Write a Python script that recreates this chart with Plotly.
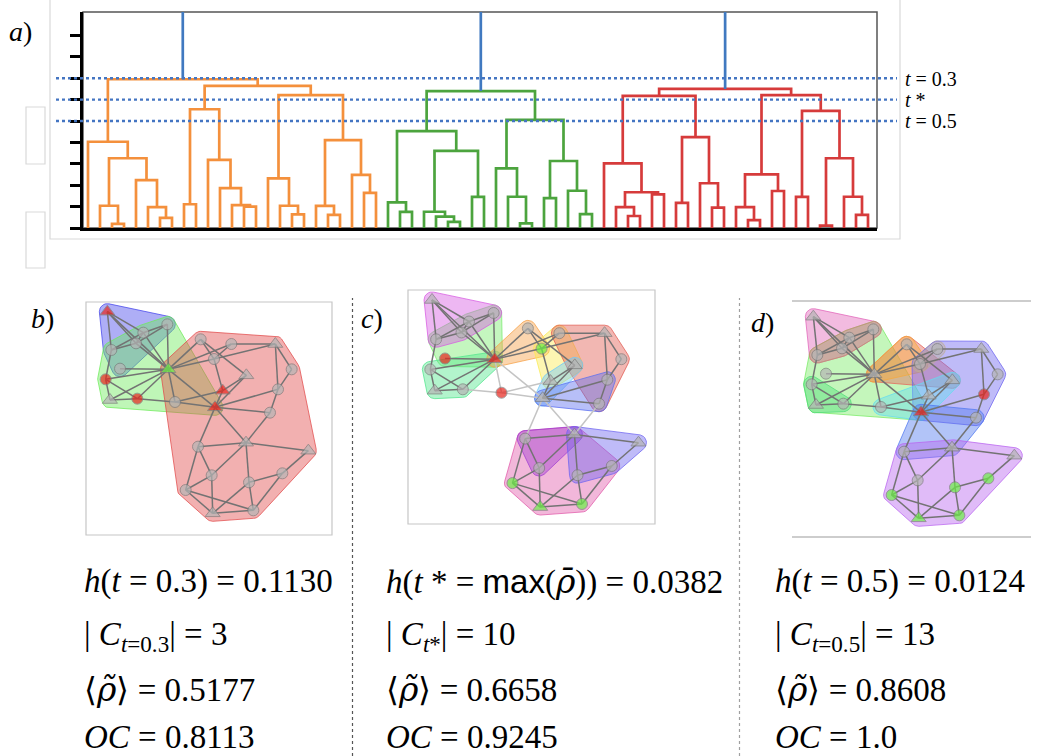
import math
import plotly.graph_objects as go

W, H = 1038, 756

# ---------------------------------------------------------------------------
# a) dendrogram: nested merges (height, left, right); None marks a leaf.
#    Heights are link distances 1 - t.
# ---------------------------------------------------------------------------
L = None

ORANGE_TREE = (0.695,
    (0.403, L, (0.326, (0.104, L, (0.019, L, L)),
                       (0.224, L, (0.098, L, (0.047, L, L))))),
    (0.664,
        (0.555, (0.111, L, L), (0.318, L, (0.186, L, (0.107, L, (0.100, L, L))))),
        (0.621, (0.232, L, (0.104, L, (0.064, L, L))),
                (0.411, (0.103, L, (0.061, L, L)), (0.248, L, (0.164, L, L))))))

GREEN_TREE = (0.640,
    (0.453, (0.120, L, (0.075, L, L)),
            (0.360, (0.076, L, (0.053, L, (0.029, L, L))), (0.145, L, L))),
    (0.505, (0.279, L, (0.146, L, (0.022, L, L))),
            (0.313, (0.140, L, L), (0.174, L, (0.065, L, L)))))

RED_TREE = (0.650,
    (0.617, (0.302, L, (0.167, (0.098, L, (0.056, L, L)), (0.157, L, L))),
            (0.425, (0.117, L, L), (0.209, L, (0.095, L, L)))),
    (0.621, (0.251, (0.098, L, (0.037, L, L)), (0.173, L, L)),
            (0.547, (0.145, L, L), (0.326, (0.011, L, L), (0.146, L, (0.061, L, L))))))

ROOT_HEIGHTS = [1.15, 1.30]          # above the visible range
CUT_T = [0.3, 0.4, 0.5]              # thresholds t = 0.3, t*, t = 0.5
CUT_LABELS = ["<i>t</i> = 0.3", "<i>t</i> *", "<i>t</i> = 0.5"]
DENDRO_COLORS = {"orange": "#F4903C", "green": "#4CA43E", "red": "#D63B3B", "root": "#4079C0"}

# ---------------------------------------------------------------------------
# b) c) d) network: node layout, node shapes, edges
# ---------------------------------------------------------------------------
NODE_X = [100, 280, 208, 186, 112, 138, 95, 108, 190, 303, 283, 380, 472, 604, 420,
          517, 653, 446, 612, 423, 588, 516, 372, 703, 413, 625, 525, 335, 416, 538]
NODE_Y = [65, 103, 128, 160, 180, 236, 268, 330, 326, 336, 238, 148, 162, 162, 207,
          256, 238, 302, 298, 352, 368, 458, 470, 482, 556, 550, 577, 600, 670, 661]
TRIANGLES = [1, 8, 11, 14, 16, 18, 20, 22, 24, 29]

EDGES = [(1, 3), (1, 4), (1, 5), (1, 11), (2, 3), (2, 4), (2, 11), (3, 4), (3, 5), (3, 11),
         (4, 5), (4, 11), (5, 7), (6, 11), (7, 8), (7, 9), (7, 11), (8, 9), (8, 11), (9, 10),
         (9, 11), (10, 11), (10, 18), (10, 20), (11, 12), (11, 13), (11, 15), (11, 20),
         (12, 15), (12, 16), (13, 14), (13, 15), (14, 15), (14, 17), (14, 19), (15, 18),
         (16, 18), (16, 20), (17, 19), (18, 20), (19, 20), (19, 21), (20, 21), (20, 22),
         (20, 23), (21, 22), (22, 23), (22, 24), (22, 25), (22, 27), (23, 25), (23, 28),
         (24, 26), (25, 28), (25, 29), (26, 27), (26, 30), (27, 29), (27, 30), (28, 29),
         (28, 30), (29, 30)]
LIGHT_EDGES_C = [(9, 10), (10, 11), (10, 18), (10, 20), (11, 20), (20, 22), (20, 23), (21, 22)]

COMM_B = [[1, 2, 3, 4, 5, 6],
          [2, 3, 4, 5, 6, 7, 8, 9, 10, 11, 20],
          list(range(10, 31))]
COMM_B_COLORS = [(70, 70, 235), (110, 235, 90), (225, 75, 75)]

COMM_C = [[2, 3, 4, 5, 6, 11], [7, 8, 9, 11], [1, 2, 3, 4, 5], [11, 12, 15],
          [13, 15, 16, 18], [13, 14, 16, 17, 19, 21], [16, 18, 20], [19, 20, 21],
          [22, 23, 25, 26, 27, 28, 29, 30], [22, 23, 25], [22, 24, 26, 27]]
COMM_C_COLORS = [(120, 235, 110), (80, 230, 140), (215, 90, 225), (245, 160, 70),
                 (250, 235, 80), (225, 90, 80), (110, 200, 250), (90, 110, 240),
                 (225, 90, 170), (160, 60, 210), (110, 100, 240)]

COMM_D = [[2, 3, 4, 5, 6, 7, 8, 9, 10, 11, 20], [7, 8, 9], [1, 2, 3, 4, 5], [2, 3, 4, 5],
          [11, 12, 15, 16], [11, 12, 15], [13, 15], [13, 14, 15, 16, 17, 18, 19, 20, 21],
          [10, 16, 18, 20], [20, 21, 22, 23], list(range(22, 31))]
COMM_D_COLORS = [(120, 235, 100), (80, 220, 120), (225, 100, 185), (190, 150, 110),
                 (230, 100, 90), (245, 170, 60), (250, 230, 80), (110, 100, 240),
                 (100, 220, 240), (80, 120, 240), (185, 100, 240)]

RED_NODES = {"b": [1, 7, 9, 18, 20], "c": [6, 10, 11], "d": [19, 20]}
GREEN_NODES = {"b": [11], "c": [15, 28, 29, 30], "d": [26, 27, 28, 29, 30]}

# panel statistics
RHO_TILDE = "<span style=\"font-family:'DejaVu Serif'\"><i>ρ̃</i></span>"
RHO_BAR = "<span style=\"font-family:'DejaVu Serif'\"><i>ρ̄</i></span>"
PANEL_T = ["<i>t</i> = 0.3",
           f"<i>t</i> * = <span style='font-family:Liberation Sans'>max</span>({RHO_BAR})",
           "<i>t</i> = 0.5"]
PANEL_SUB = ["<i>t</i>=0.3", "<i>t</i>*", "<i>t</i>=0.5"]
H_VALUES = [0.1130, 0.0382, 0.0124]
N_COMMUNITIES = [3, 10, 13]
RHO_MEAN = [0.5177, 0.6658, 0.8608]
OC_VALUES = [0.8113, 0.9245, 1.0]

# ---------------------------------------------------------------------------
fig = go.Figure()
SERIF = "Liberation Serif"


def px_x(x):
    return x / W


def px_y(y):
    return 1 - y / H


# ---- dendrogram geometry --------------------------------------------------
def walk(node, counter, xs, ys):
    if node is None:
        x = counter[0]
        counter[0] += 1
        return x, 0.0
    h, a, b = node
    xa, ha = walk(a, counter, xs, ys)
    xb, hb = walk(b, counter, xs, ys)
    xs += [xa, xa, xb, xb, None]
    ys += [ha, h, h, hb, None]
    return (xa + xb) / 2, h


counter = [0]
tops = []
for name, tree in [("orange", ORANGE_TREE), ("green", GREEN_TREE), ("red", RED_TREE)]:
    xs, ys = [], []
    tops.append(walk(tree, counter, xs, ys))
    fig.add_trace(go.Scatter(x=xs, y=ys, mode="lines", xaxis="x", yaxis="y",
                             line=dict(color=DENDRO_COLORS[name], width=2.7),
                             hoverinfo="skip"))
(xo, ho), (xg, hg), (xr, hr) = tops
xc = (xo + xg) / 2
fig.add_trace(go.Scatter(
    x=[xo, xo, xg, xg, None, xc, xc, xr, xr],
    y=[ho, ROOT_HEIGHTS[0], ROOT_HEIGHTS[0], hg, None, ROOT_HEIGHTS[0], ROOT_HEIGHTS[1],
       ROOT_HEIGHTS[1], hr],
    mode="lines", xaxis="x", yaxis="y",
    line=dict(color=DENDRO_COLORS["root"], width=2.7), hoverinfo="skip"))

PLOT_L, PLOT_R, PLOT_T, PLOT_B = 83, 877, 12, 228
leaf_step = 12.0
x0 = -(88 - PLOT_L) / leaf_step
x1 = x0 + (PLOT_R - PLOT_L) / leaf_step
y_top = (PLOT_B - PLOT_T) / 214.0

shapes = []
# outer light frame and side boxes
shapes.append(dict(type="rect", xref="paper", yref="paper", x0=px_x(50), x1=px_x(900),
                   y0=px_y(239), y1=px_y(-3), line=dict(color="#d9d9d9", width=1.2), layer="below"))
for (a, b, c, d) in [(26, 107, 45, 164), (26, 212, 45, 268)]:
    shapes.append(dict(type="rect", xref="paper", yref="paper", x0=px_x(a), x1=px_x(c),
                       y0=px_y(d), y1=px_y(b), line=dict(color="#d9d9d9", width=1.2)))
# dendrogram frame (top/right borders)
shapes.append(dict(type="rect", xref="x domain", yref="y domain", x0=0, x1=1, y0=0, y1=1,
                   line=dict(color="#555555", width=1.5), layer="below"))
# threshold lines
for t in CUT_T:
    shapes.append(dict(type="line", xref="paper", yref="y", x0=px_x(56), x1=px_x(897),
                       y0=1 - t, y1=1 - t, line=dict(color="#4475C2", width=2.4, dash="dot")))
# vertical separators between panels
shapes.append(dict(type="line", xref="paper", yref="paper", x0=px_x(352.5), x1=px_x(352.5),
                   y0=0, y1=px_y(298), line=dict(color="#555555", width=1.2, dash="dot")))
shapes.append(dict(type="line", xref="paper", yref="paper", x0=px_x(739.5), x1=px_x(739.5),
                   y0=0, y1=px_y(298), line=dict(color="#a0a0a0", width=1.2, dash="dot")))

annotations = []
for t, lab in zip(CUT_T, CUT_LABELS):
    annotations.append(dict(text=lab, xref="paper", yref="y", x=px_x(903), y=1 - t,
                            xanchor="left", yanchor="middle", showarrow=False, height=17,
                            font=dict(family=SERIF, size=20, color="black")))

# ---- network panels ---------------------------------------------------------
PANELS = [
    ("b", 74.0, 290.0, 1 / 3, (86, 302, 332, 535), COMM_B, COMM_B_COLORS, "2"),
    ("c", 397.8, 277.7, 1.027 / 3, (408, 290, 655, 524), COMM_C, COMM_C_COLORS, "3"),
    ("d", 780.0, 295.0, 1 / 3, (792, 301, 1031, 537), COMM_D, COMM_D_COLORS, "4"),
]


def convex_hull(points):
    pts = sorted(set(points))
    if len(pts) <= 2:
        return pts

    def cross(o, a, b):
        return (a[0] - o[0]) * (b[1] - o[1]) - (a[1] - o[1]) * (b[0] - o[0])
    lower, upper = [], []
    for p in pts:
        while len(lower) >= 2 and cross(lower[-2], lower[-1], p) <= 0:
            lower.pop()
        lower.append(p)
    for p in reversed(pts):
        while len(upper) >= 2 and cross(upper[-2], upper[-1], p) <= 0:
            upper.pop()
        upper.append(p)
    return lower[:-1] + upper[:-1]


def rounded_hull(members, pad):
    pts = []
    for m in members:
        cx, cy = NODE_X[m - 1], NODE_Y[m - 1]
        for k in range(28):
            a = 2 * math.pi * k / 28
            pts.append((round(cx + pad * math.cos(a), 3), round(cy + pad * math.sin(a), 3)))
    hull = convex_hull(pts)
    hull.append(hull[0])
    return [p[0] for p in hull], [p[1] for p in hull]


def edge_xy(edge_list):
    xs, ys = [], []
    for a, b in edge_list:
        xs += [NODE_X[a - 1], NODE_X[b - 1], None]
        ys += [NODE_Y[a - 1], NODE_Y[b - 1], None]
    return xs, ys


layout_axes = {}
for key, ox, oy, s, box, comms, colors, ax in PANELS:
    X0, Y0, X1, Y1 = box
    xa, ya = "x" + ax, "y" + ax
    layout_axes["xaxis" + ax] = dict(domain=[px_x(X0), px_x(X1)],
                                     range=[(X0 - ox) / s, (X1 - ox) / s],
                                     visible=False, anchor=ya)
    layout_axes["yaxis" + ax] = dict(domain=[px_y(Y1), px_y(Y0)],
                                     range=[(Y1 - oy) / s, (Y0 - oy) / s],
                                     visible=False, anchor=xa)
    if key == "d":
        for yy in (Y0, Y1):
            shapes.append(dict(type="line", xref="paper", yref="paper", x0=px_x(X0), x1=px_x(X1),
                               y0=px_y(yy), y1=px_y(yy), line=dict(color="#bdbdbd", width=1.3)))
    else:
        shapes.append(dict(type="rect", xref="paper", yref="paper", x0=px_x(X0), x1=px_x(X1),
                           y0=px_y(Y1), y1=px_y(Y0), line=dict(color="#c6c6c6", width=1.2)))

    pad = 8.0 / s
    for members, (r, g, b) in zip(comms, colors):
        hx, hy = rounded_hull(members, pad)
        alpha = 0.32 if (r, g, b) == (190, 150, 110) else 0.44
        fig.add_trace(go.Scatter(x=hx, y=hy, mode="lines", fill="toself", xaxis=xa, yaxis=ya,
                                 fillcolor=f"rgba({r},{g},{b},{alpha})",
                                 line=dict(color=f"rgba({r},{g},{b},0.75)", width=1),
                                 hoverinfo="skip"))

    if key == "c":
        light = set(LIGHT_EDGES_C)
        dark_edges = [e for e in EDGES if e not in light]
        lx, ly = edge_xy(LIGHT_EDGES_C)
        fig.add_trace(go.Scatter(x=lx, y=ly, mode="lines", xaxis=xa, yaxis=ya,
                                 line=dict(color="#c4c4c4", width=1.5), hoverinfo="skip"))
    else:
        dark_edges = EDGES
    ex, ey = edge_xy(dark_edges)
    fig.add_trace(go.Scatter(x=ex, y=ey, mode="lines", xaxis=xa, yaxis=ya,
                             line=dict(color="#737373", width=1.5), hoverinfo="skip"))

    fills, symbols, sizes = [], [], []
    for i in range(1, len(NODE_X) + 1):
        if i in RED_NODES[key]:
            fills.append("#E8261E")
        elif i in GREEN_NODES[key]:
            fills.append("#6CF046")
        else:
            fills.append("#B5B5B5")
        tri = i in TRIANGLES
        symbols.append("triangle-up" if tri else "circle")
        sizes.append(13 if tri else 11)
    fig.add_trace(go.Scatter(x=NODE_X, y=NODE_Y, mode="markers", xaxis=xa, yaxis=ya,
                             cliponaxis=False,
                             marker=dict(color=fills, symbol=symbols, size=sizes,
                                         line=dict(color="#7c7c7c", width=1)),
                             hoverinfo="skip"))

# ---- panel statistics text --------------------------------------------------
TEXT_X = [82, 384, 773]
LINE_Y = [581, 636, 689, 737]
for i in range(3):
    lines = [
        f"<i>h</i>({PANEL_T[i]}) = {H_VALUES[i]:.4f}",
        f"| <i>C</i><sub>{PANEL_SUB[i]}</sub>| = {N_COMMUNITIES[i]}",
        f"⟨{RHO_TILDE}⟩ = {RHO_MEAN[i]:.4f}",
        f"<i>OC</i> = {OC_VALUES[i]}",
    ]
    for txt, yy in zip(lines, LINE_Y):
        annotations.append(dict(text=txt, xref="paper", yref="paper", x=px_x(TEXT_X[i]),
                                y=px_y(yy), xanchor="left", yanchor="middle", showarrow=False,
                                font=dict(family=SERIF, size=33, color="black")))

for lab, x, y, size in [("<i>a</i>)", 7, 31, 28), ("<i>b</i>)", 29, 318, 28),
                        ("<i>c</i>)", 359, 318, 28), ("<i>d</i>)", 749, 322, 28)]:
    annotations.append(dict(text=lab, xref="paper", yref="paper", x=px_x(x), y=px_y(y),
                            xanchor="left", yanchor="middle", showarrow=False,
                            font=dict(family=SERIF, size=size, color="black")))

fig.update_layout(
    width=W, height=H, margin=dict(l=0, r=0, t=0, b=0),
    paper_bgcolor="white", plot_bgcolor="white", showlegend=False,
    xaxis=dict(domain=[px_x(PLOT_L), px_x(PLOT_R)], range=[x0, x1], showgrid=False,
               zeroline=False, showticklabels=False, ticks="", showline=True,
               linecolor="black", linewidth=2.5, anchor="y"),
    yaxis=dict(domain=[px_y(PLOT_B), px_y(PLOT_T)], range=[0, y_top], showgrid=False,
               zeroline=False, showticklabels=False, ticks="outside", ticklen=10,
               tickwidth=2.5, tickcolor="black", tickvals=[k / 10 for k in range(10)],
               showline=True, linecolor="black", linewidth=3, anchor="x"),
    shapes=shapes, annotations=annotations,
    **layout_axes,
)

fig.write_html("out.html")
